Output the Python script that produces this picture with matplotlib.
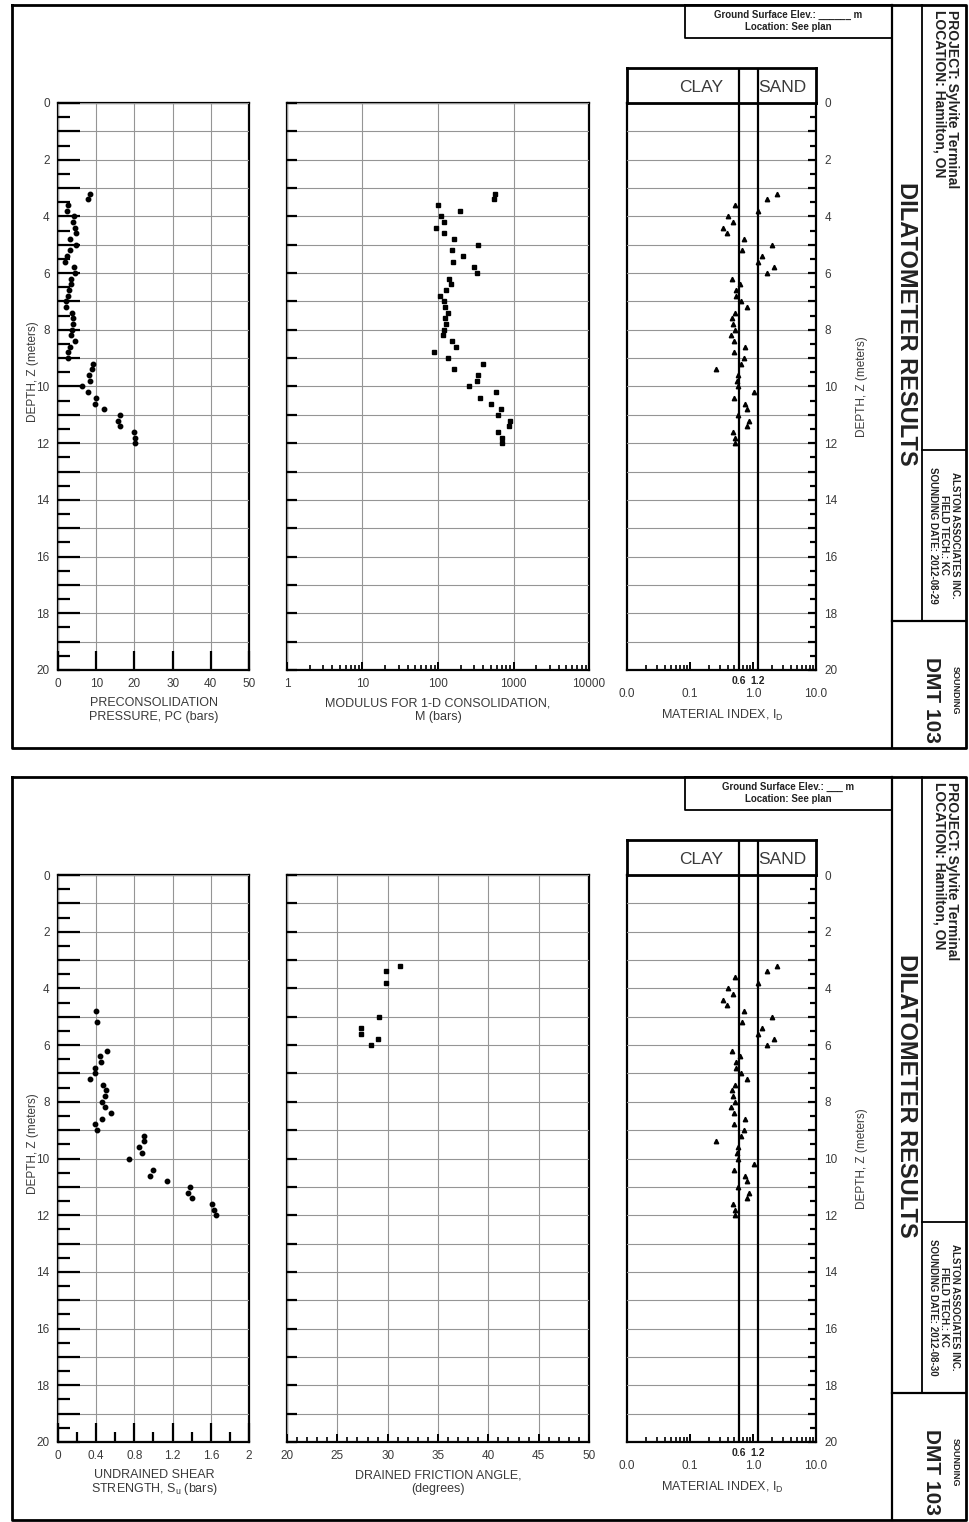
import numpy as np
import matplotlib.pyplot as plt
from matplotlib.ticker import MultipleLocator, FixedLocator, FuncFormatter, NullFormatter, LogLocator

plt.rcParams['font.family'] = ['Liberation Sans Narrow', 'Liberation Sans', 'DejaVu Sans']

# ---- data (depth in m) ----
depth = [3.2, 3.4, 3.6, 3.8, 4.0, 4.2, 4.4, 4.6, 4.8, 5.0, 5.2, 5.4, 5.6, 5.8, 6.0,
         6.2, 6.4, 6.6, 6.8, 7.0, 7.2, 7.4, 7.6, 7.8, 8.0, 8.2, 8.4, 8.6, 8.8, 9.0,
         9.2, 9.4, 9.6, 9.8, 10.0, 10.2, 10.4, 10.6, 10.8, 11.0, 11.2, 11.4, 11.6, 11.8, 12.0]

# preconsolidation pressure, bars
pc = [8.5, 7.9, 2.6, 2.4, 4.1, 3.9, 4.4, 4.6, 3.2, 4.8, 3.2, 2.4, 1.9, 4.1, 4.4,
      3.5, 3.5, 2.8, 2.6, 2.2, 2.0, 3.7, 3.9, 3.9, 3.7, 3.5, 4.4, 3.2, 2.6, 2.5,
      9.2, 8.9, 8.1, 8.3, 6.3, 7.9, 10.0, 9.6, 12.1, 16.1, 15.6, 16.1, 19.9, 20.2, 20.2]

# constrained modulus M, bars
modulus = [575, 546, 100, 198, 111, 121, 93, 119, 161, 339, 152, 215, 156, 300, 329,
           141, 149, 128, 106, 121, 123, 134, 123, 128, 120, 117, 152, 171, 88, 134,
           398, 161, 339, 329, 260, 587, 356, 499, 676, 623, 899, 863, 630, 711, 705]

# material index I_D
mat_index = [2.38, 1.69, 0.52, 1.19, 0.40, 0.48, 0.34, 0.38, 0.71, 1.98, 0.66, 1.41, 1.19, 2.13, 1.67,
             0.47, 0.62, 0.53, 0.54, 0.65, 0.79, 0.52, 0.46, 0.48, 0.52, 0.45, 0.50, 0.76, 0.50, 0.73,
             0.65, 0.26, 0.57, 0.56, 0.57, 1.05, 0.50, 0.76, 0.80, 0.57, 0.85, 0.80, 0.48, 0.52, 0.52]

# undrained shear strength, bars
su_depth = [4.8, 5.2, 6.2, 6.4, 6.6, 6.8, 7.0, 7.2, 7.4, 7.6, 7.8, 8.0, 8.2, 8.4, 8.6, 8.8,
            9.0, 9.2, 9.4, 9.6, 9.8, 10.0, 10.4, 10.6, 10.8, 11.0, 11.2, 11.4, 11.6, 11.8, 12.0]
su = [0.40, 0.41, 0.51, 0.44, 0.45, 0.39, 0.39, 0.34, 0.47, 0.50, 0.49, 0.46, 0.49, 0.55, 0.46, 0.39,
      0.41, 0.90, 0.90, 0.85, 0.88, 0.74, 1.00, 0.96, 1.14, 1.38, 1.36, 1.40, 1.61, 1.63, 1.65]

# drained friction angle, degrees
phi_depth = [3.2, 3.4, 3.8, 5.0, 5.4, 5.6, 5.8, 6.0]
phi = [31.2, 29.8, 29.8, 29.1, 27.4, 27.4, 29.0, 28.3]

clay_sand = [0.6, 1.2]

W, H = 970, 1522
TXT = '#3a3a3a'
GRID = '#959595'

fig = plt.figure(figsize=(W / 100, H / 100), dpi=100)
bg = fig.add_axes([0, 0, 1, 1])
bg.set_xlim(0, W)
bg.set_ylim(H, 0)
bg.axis('off')


def px_axes(x0, y0, x1, y1):
    return fig.add_axes([x0 / W, 1 - y1 / H, (x1 - x0) / W, (y1 - y0) / H])


def even_only(v, pos):
    return f'{v:.0f}' if abs(v % 2) < 1e-6 else ''


def depth_axis(ax, ticklen, halflen=None, right=False, labels=True):
    ax.set_ylim(20, 0)
    ax.yaxis.set_major_locator(MultipleLocator(1))
    ax.yaxis.set_major_formatter(FuncFormatter(even_only) if labels else NullFormatter())
    if halflen:
        ax.yaxis.set_minor_locator(MultipleLocator(0.5))
    ax.tick_params(axis='y', which='major', direction='in', length=ticklen, width=1.6,
                   left=not right, right=right, labelleft=(labels and not right),
                   labelright=(labels and right), labelsize=8.5, labelcolor=TXT, pad=6)
    if halflen:
        ax.tick_params(axis='y', which='minor', direction='in', length=halflen, width=1.6,
                       left=not right, right=right)
    ax.grid(True, axis='y', which='major', color=GRID, lw=0.8)
    for s in ax.spines.values():
        s.set_linewidth(1.6)
    ax.set_axisbelow(False)


def line(x0, y0, x1, y1, lw=1.5):
    bg.plot([x0, x1], [y0, y1], color='k', lw=lw, solid_capstyle='projecting')


def rect(x0, y0, x1, y1, lw=1.5):
    bg.plot([x0, x1, x1, x0, x0], [y0, y0, y1, y1, y0], color='k', lw=lw)


def draw_sheet(oy, first, elev, date):
    top, bot = oy + 103, oy + 670

    # frame
    rect(12, oy + 5, 966, oy + 748, lw=2.0)
    line(892, oy + 5, 892, oy + 748, lw=1.6)
    line(922, oy + 5, 922, oy + 621, lw=1.3)
    line(922, oy + 450, 966, oy + 450, lw=1.3)
    line(892, oy + 621, 966, oy + 621, lw=1.6)
    rect(685, oy + 5, 892, oy + 38, lw=1.3)
    bg.text(788, oy + 15, f'Ground Surface Elev.: {elev} m', ha='center', va='center',
            fontsize=7, fontweight='bold', color='#222222')
    bg.text(788, oy + 27, 'Location: See plan', ha='center', va='center',
            fontsize=7, fontweight='bold', color='#222222')

    bg.text(907, oy + 324, 'DILATOMETER RESULTS', rotation=270, ha='center', va='center',
            fontsize=17, fontweight='bold', color='#222222')
    bg.text(952, oy + 10, 'PROJECT: Sylvite Terminal', rotation=270, rotation_mode='anchor',
            ha='left', va='center', fontsize=10, fontweight='bold', color='#222222')
    bg.text(940, oy + 10, 'LOCATION: Hamilton, ON', rotation=270, rotation_mode='anchor',
            ha='left', va='center', fontsize=10, fontweight='bold', color='#222222')
    for xx, s in zip([955, 944, 933], ['ALSTON ASSOCIATES INC.', 'FIELD TECH.: KC',
                                       f'SOUNDING DATE: {date}']):
        bg.text(xx, oy + 535, s, rotation=270, ha='center', va='center',
                fontsize=7, fontweight='bold', color='#222222')
    bg.text(955, oy + 690, 'SOUNDING', rotation=270, ha='center', va='center',
            fontsize=6.5, fontweight='bold', color='#222222')
    bg.text(932, oy + 700, 'DMT 103', rotation=270, ha='center', va='center',
            fontsize=15, fontweight='bold', color='#222222')

    # ---- panel 1 ----
    ax1 = px_axes(58, top, 249, bot)
    depth_axis(ax1, 15.5, 8.5)
    if first:
        ax1.set_xlim(0, 50)
        ax1.xaxis.set_major_locator(MultipleLocator(10))
        ax1.plot(pc, depth, 'o', ms=3.2, color='k', zorder=5)
        lab1 = ['PRECONSOLIDATION', 'PRESSURE, PC (bars)']
    else:
        ax1.set_xlim(0, 2)
        ax1.xaxis.set_major_locator(MultipleLocator(0.4))
        ax1.xaxis.set_minor_locator(MultipleLocator(0.2))
        ax1.xaxis.set_major_formatter(FuncFormatter(lambda v, p: f'{v:g}'))
        ax1.tick_params(axis='x', which='minor', direction='in', length=7, width=1.6)
        ax1.plot(su, su_depth, 'o', ms=3.2, color='k', zorder=5)
        lab1 = ['UNDRAINED SHEAR', 'STRENGTH, S$_\\mathregular{u}$ (bars)']
    ax1.tick_params(axis='x', which='major', direction='in', length=13.5, width=1.6,
                    labelsize=8.5, labelcolor=TXT, pad=6)
    ax1.grid(True, axis='x', which='major', color=GRID, lw=0.8)
    bg.text(154, oy + 703, lab1[0], ha='center', va='center', fontsize=9, color=TXT)
    bg.text(154, oy + 717, lab1[1], ha='center', va='center', fontsize=9, color=TXT)
    bg.text(33, oy + 372, 'DEPTH, Z (meters)', rotation=90, ha='center', va='center',
            fontsize=8.5, color=TXT)

    # ---- panel 2 ----
    ax2 = px_axes(287, top, 589, bot)
    depth_axis(ax2, 7, labels=False)
    if first:
        ax2.set_xscale('log')
        ax2.set_xlim(1, 10000)
        ax2.xaxis.set_major_locator(LogLocator(base=10, numticks=10))
        ax2.xaxis.set_minor_locator(LogLocator(base=10, subs=np.arange(2, 10), numticks=10))
        ax2.xaxis.set_minor_formatter(NullFormatter())
        ax2.xaxis.set_major_formatter(FuncFormatter(lambda v, p: f'{v:.0f}'))
        ax2.plot(modulus, depth, 's', ms=3.2, color='k', zorder=5)
        lab2 = ['MODULUS FOR 1-D CONSOLIDATION,', 'M (bars)']
    else:
        ax2.set_xlim(20, 50)
        ax2.xaxis.set_major_locator(MultipleLocator(5))
        ax2.xaxis.set_minor_locator(MultipleLocator(1))
        ax2.plot(phi, phi_depth, 's', ms=3.2, color='k', zorder=5)
        lab2 = ['DRAINED FRICTION ANGLE,', '(degrees)']
    ax2.tick_params(axis='x', which='major', direction='in', length=6, width=1.4,
                    labelsize=8.5, labelcolor=TXT, pad=6)
    ax2.tick_params(axis='x', which='minor', direction='in', length=3.5, width=1.2)
    ax2.grid(True, axis='x', which='major', color=GRID, lw=0.8)
    bg.text(438, oy + 703, lab2[0], ha='center', va='center', fontsize=9, color=TXT)
    bg.text(438, oy + 717, lab2[1], ha='center', va='center', fontsize=9, color=TXT)

    # ---- panel 3 ----
    ax3 = px_axes(627, top, 816, bot)
    depth_axis(ax3, 6, 4, right=True)
    ax3.set_xscale('log')
    ax3.set_xlim(0.01, 10)
    ax3.xaxis.set_major_locator(FixedLocator([0.01, 0.1, 1, 10]))
    ax3.xaxis.set_major_formatter(FuncFormatter(lambda v, p: {0.01: '0.0', 0.1: '0.1',
                                                              1: '1.0', 10: '10.0'}.get(round(v, 2), '')))
    ax3.xaxis.set_minor_locator(LogLocator(base=10, subs=np.arange(2, 10), numticks=10))
    ax3.xaxis.set_minor_formatter(NullFormatter())
    ax3.tick_params(axis='x', which='major', direction='in', length=6, width=1.4,
                    labelsize=8.5, labelcolor=TXT, pad=13)
    ax3.tick_params(axis='x', which='minor', direction='in', length=3.5, width=1.2)
    for v in clay_sand:
        ax3.axvline(v, color='k', lw=1.6, zorder=4)
        ax3.text(v, 20.2, f'{v:g}', transform=ax3.transData, ha='center', va='top',
                 fontsize=7.5, fontweight='bold', color='#222222')
    ax3.plot(mat_index, depth, '^', ms=3.2, color='k', zorder=5)
    bg.text(722, oy + 715, 'MATERIAL INDEX, I$_\\mathregular{D}$', ha='center', va='center',
            fontsize=9, color=TXT)
    bg.text(862, oy + 387, 'DEPTH, Z (meters)', rotation=90, ha='center', va='center',
            fontsize=8.5, color=TXT)

    # clay / sand header
    hd = px_axes(627, oy + 68, 816, top)
    hd.set_xscale('log')
    hd.set_xlim(0.01, 10)
    hd.set_xticks([])
    hd.set_yticks([])
    hd.minorticks_off()
    for s in hd.spines.values():
        s.set_linewidth(2.0)
    for v in clay_sand:
        hd.axvline(v, color='k', lw=1.6)
    hd.text(0.15, 0.45, 'CLAY', ha='center', va='center', fontsize=12.5, color=TXT)
    hd.text(2.9, 0.45, 'SAND', ha='center', va='center', fontsize=12.5, color=TXT)


draw_sheet(0, True, '______', '2012-08-29')
draw_sheet(772, False, '___', '2012-08-30')

fig.savefig('out.png', dpi=100)
